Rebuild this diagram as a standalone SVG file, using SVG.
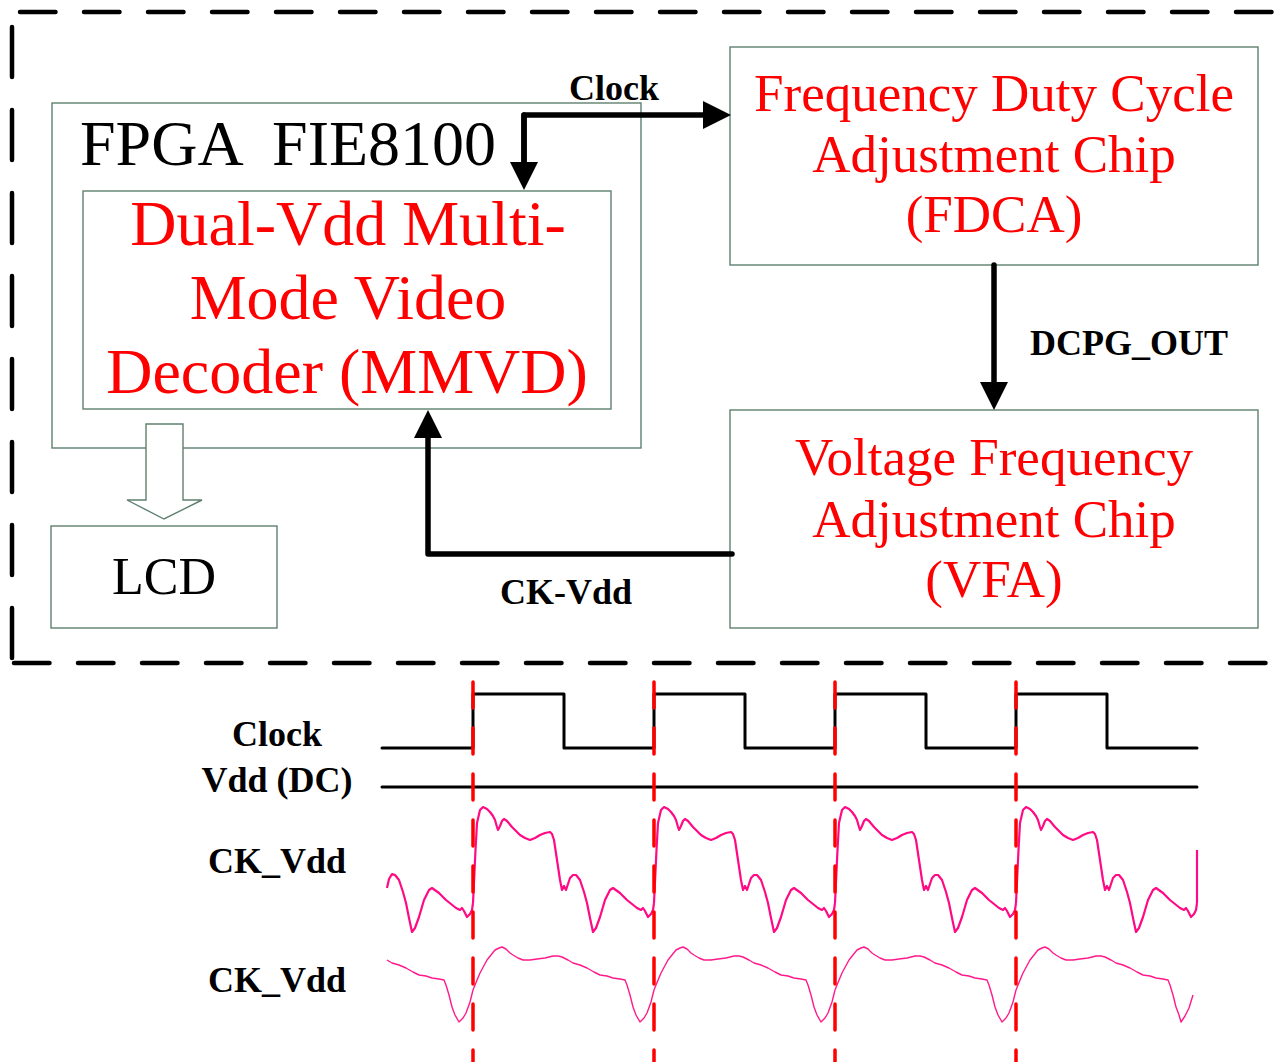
<svg xmlns="http://www.w3.org/2000/svg" xmlns:xlink="http://www.w3.org/1999/xlink" width="1284" height="1062" viewBox="0 0 1284 1062">
<style>
.box{fill:#fff;stroke:#5f806e;stroke-width:1.4}
.red{font-family:"Liberation Serif","Times New Roman",serif;fill:#ff0000;text-anchor:middle}
.blk{font-family:"Liberation Serif","Times New Roman",serif;fill:#000}
.lbl{font-family:"Liberation Serif","Times New Roman",serif;font-weight:bold;font-size:36px;fill:#000}
.conn{fill:none;stroke:#000;stroke-width:5.5;stroke-linecap:round;stroke-linejoin:round}
.frame{fill:none;stroke:#000;stroke-width:4.5;stroke-linecap:round}
.sq{fill:none;stroke:#000;stroke-width:3;stroke-linejoin:round;stroke-linecap:round}
.rd{fill:none;stroke:#ff0000;stroke-width:3.5;stroke-linecap:round;stroke-dasharray:26 20}
.wu{fill:none;stroke:#ff0a84;stroke-width:2.2;stroke-linejoin:round}
.wl{fill:none;stroke:#ff1a8c;stroke-width:1.4;stroke-linejoin:round}
</style>
<defs>
<marker id="ah" viewBox="0 0 10 10" refX="0" refY="5" markerWidth="28" markerHeight="28" markerUnits="userSpaceOnUse" orient="auto">
<path d="M0 0 L10 5 L0 10 Z" fill="#000"/>
</marker>
<path id="pu" d="M473 903 L475.5 850 L477 823 L480 810 L483 807 L487 809 L490 812 L493 816 L495 820 L497 827 L498 830 L500 826 L502 821 L504 819 L507 821 L512 827 L516 831 L520 835 L525 838 L530 840 L535 838 L540 835 L545 833 L550 832 L552 834 L554 840 L557 860 L560 880 L562 890 L564 886 L566 890 L568 884 L570 878 L573 875 L576 875 L580 880 L584 892 L587 903 L590 918 L593 932 L596 928 L600 917 L605 900 L610 890 L613 888 L620 893 L627 900 L632 904 L637 908 L641 910 L643 908 L645 911 L648 917 L651 914 L653 910 L654 903"/>
<path id="pl" d="M473 990 L475 985 L480 973 L487 960 L491 955 L495 950 L499 948 L502 947 L506 949 L510 953 L513 955 L518 958 L523 960 L530 960 L537 959 L545 958 L553 956 L558 956 L562 957 L568 960 L573 963 L580 965 L587 968 L594 972 L600 975 L607 976 L613 978 L620 979 L625 980 L627 985 L630 995 L633 1007 L636 1015 L640 1022 L644 1018 L647 1013 L651 1002 L654 990"/>
</defs>

<g id="frame">
<line class="frame" x1="20" y1="12" x2="1284" y2="12" stroke-dasharray="35.5 28.5"/>
<line class="frame" x1="12" y1="27" x2="12" y2="660" stroke-dasharray="50 33"/>
<line class="frame" x1="14" y1="663" x2="1284" y2="663" stroke-dasharray="35.5 28.5"/>
</g>

<g id="fpga">
<rect class="box" x="52" y="103" width="589" height="345"/>
<text class="blk" x="80" y="165" font-size="64" xml:space="preserve">FPGA  FIE8100</text>
</g>

<g id="mmvd">
<rect class="box" x="83" y="191" width="528" height="218"/>
<text class="red" font-size="64"><tspan x="348" y="245">Dual-Vdd Multi-</tspan><tspan x="348" y="319">Mode Video</tspan><tspan x="347" y="393">Decoder (MMVD)</tspan></text>
</g>

<g id="fdca">
<rect class="box" x="730" y="47" width="528" height="218"/>
<text class="red" font-size="53"><tspan x="994" y="111">Frequency Duty Cycle</tspan><tspan x="994" y="172">Adjustment Chip</tspan><tspan x="994" y="232">(FDCA)</tspan></text>
</g>

<g id="vfa">
<rect class="box" x="730" y="410" width="528" height="218"/>
<text class="red" font-size="53"><tspan x="994" y="475">Voltage Frequency</tspan><tspan x="994" y="537">Adjustment Chip</tspan><tspan x="994" y="597">(VFA)</tspan></text>
</g>

<g id="lcd">
<rect class="box" x="51" y="526" width="226" height="102"/>
<text class="blk" x="164" y="594" font-size="52" text-anchor="middle">LCD</text>
</g>

<g id="connectors">
<path class="box" d="M146 424 H183 V500 H202 L164 519 L127 500 H146 Z"/>
<path class="conn" d="M524 162 V115 H703" marker-end="url(#ah)"/>
<path class="conn" d="M524 115 V162" marker-end="url(#ah)"/>
<path class="conn" d="M994 265 V382" marker-end="url(#ah)"/>
<path class="conn" d="M732 554 H428 V438" marker-end="url(#ah)"/>
<text class="lbl" x="614" y="100" text-anchor="middle">Clock</text>
<text class="lbl" x="1129" y="355" text-anchor="middle">DCPG_OUT</text>
<text class="lbl" x="566" y="604" text-anchor="middle">CK-Vdd</text>
</g>

<g id="waveforms">
<text class="lbl" x="277" y="746" text-anchor="middle">Clock</text>
<text class="lbl" x="277" y="792" text-anchor="middle">Vdd (DC)</text>
<text class="lbl" x="277" y="873" text-anchor="middle">CK_Vdd</text>
<text class="lbl" x="277" y="992" text-anchor="middle">CK_Vdd</text>
<path class="sq" d="M382 748 H473 V694 H564 V748 H654 V694 H745 V748 H835 V694 H926 V748 H1016 V694 H1107 V748 H1197"/>
<line class="sq" x1="382" y1="787" x2="1197" y2="787"/>
<path class="wu" d="M387 888 L389 879 L392 874 L395 875 L399 880 L403 892 L406 903 L409 918 L412 932 L415 928 L419 917 L424 900 L429 890 L432 888 L439 893 L446 900 L451 904 L456 908 L460 910 L462 908 L464 911 L467 917 L470 914 L472 910 L473 903"/>
<use xlink:href="#pu" href="#pu" class="wu"/>
<use xlink:href="#pu" href="#pu" class="wu" transform="translate(181 0)"/>
<use xlink:href="#pu" href="#pu" class="wu" transform="translate(362 0)"/>
<use xlink:href="#pu" href="#pu" class="wu" transform="translate(543 0)"/>
<path class="wu" d="M1197 903 L1197 850"/>
<path class="wl" d="M387 960 L392 963 L399 965 L406 968 L413 972 L419 975 L426 976 L432 978 L439 979 L444 980 L446 985 L449 995 L452 1007 L455 1015 L459 1022 L463 1018 L466 1013 L470 1002 L473 990"/>
<use xlink:href="#pl" href="#pl" class="wl"/>
<use xlink:href="#pl" href="#pl" class="wl" transform="translate(181 0)"/>
<use xlink:href="#pl" href="#pl" class="wl" transform="translate(362 0)"/>
<path class="wl" d="M1016 990 L1018 985 L1023 973 L1030 960 L1034 955 L1038 950 L1042 948 L1045 947 L1049 949 L1053 953 L1056 955 L1061 958 L1066 960 L1073 960 L1080 959 L1088 958 L1096 956 L1101 956 L1105 957 L1111 960 L1116 963 L1123 965 L1130 968 L1137 972 L1143 975 L1150 976 L1156 978 L1163 979 L1168 980 L1170 985 L1173 995 L1176 1007 L1179 1015 L1181 1022 L1185 1016 L1189 1008 L1193 995"/>
<line class="rd" x1="473" y1="682" x2="473" y2="1062"/>
<line class="rd" x1="654" y1="682" x2="654" y2="1062"/>
<line class="rd" x1="835" y1="682" x2="835" y2="1062"/>
<line class="rd" x1="1016" y1="682" x2="1016" y2="1062"/>
</g>
</svg>
